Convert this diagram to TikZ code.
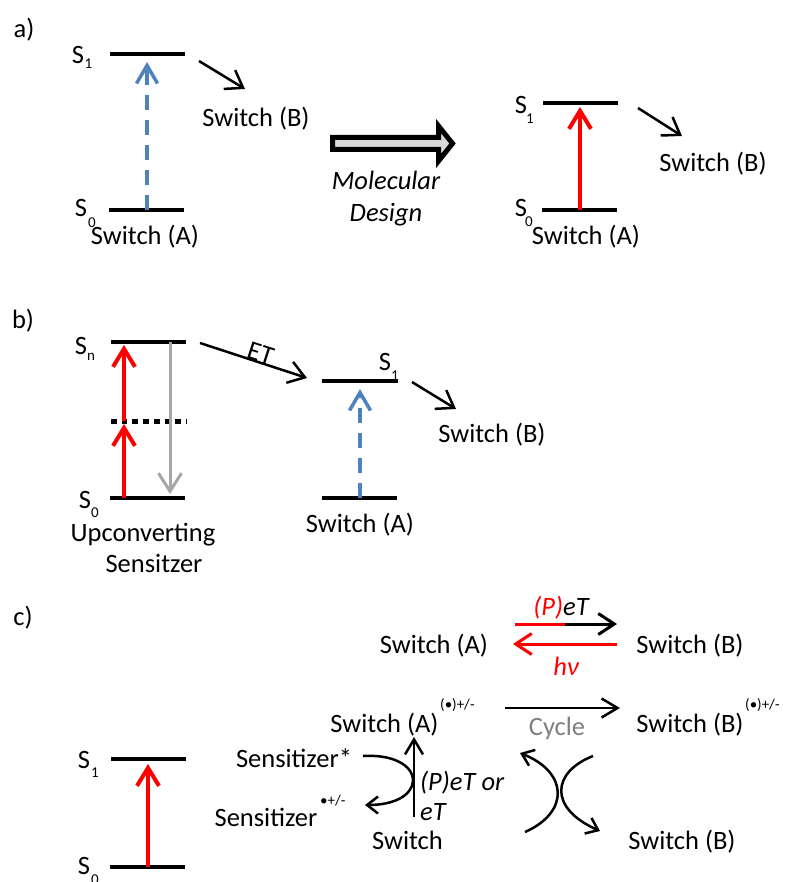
\documentclass[tikz,border=0pt]{standalone}
\usepackage{fontspec}
\setmainfont{Carlito}
\usetikzlibrary{arrows.meta}
\definecolor{myblue}{RGB}{79,129,189}
\definecolor{mygray}{RGB}{166,166,166}
\definecolor{fillgray}{RGB}{217,217,217}
\definecolor{cycgray}{RGB}{128,128,128}
\begin{document}
\begin{tikzpicture}[x=1pt,y=-1pt,
  lvl/.style={line width=4.5pt},
  lbl/.style={font=\fontsize{26.5}{30}\selectfont, inner sep=0pt, anchor=base},
  sym/.style={font=\fontsize{26.5}{30}\selectfont, inner sep=0pt},
  subl/.style={font=\fontsize{15}{15}\selectfont, inner sep=0pt},
  supl/.style={font=\fontsize{15}{15}\selectfont, inner sep=0pt, anchor=base west},
  bluedash/.style={myblue, line width=3.5pt, dash pattern=on 15pt off 10pt, -{Straight Barb[length=18pt,width=21pt]}},
  redup/.style={red, line width=4pt, -{Straight Barb[length=18pt,width=22pt]}},
  grayarr/.style={mygray, line width=3pt, -{Straight Barb[length=18pt,width=23pt]}},
  blk/.style={line width=2.5pt, -{Straight Barb[length=16pt,width=22pt]}},
  carr/.style={line width=2.5pt, -{Straight Barb[length=16pt,width=19pt]}},
  arcarr/.style={line width=2.5pt, -{Straight Barb[length=11pt,width=17pt]}},
]
\useasboundingbox (0,0) rectangle (786,882);

% ================= panel a =================
\node[lbl] (la) at (24,38) {a)};
% left diagram
\coordinate (aS1l) at (110,54); \coordinate (aS1r) at (185,54);
\coordinate (aS0l) at (109,210); \coordinate (aS0r) at (184,210);
\draw[lvl] (aS1l) -- (aS1r);
\draw[lvl] (aS0l) -- (aS0r);
\coordinate (abB) at (147,210); \coordinate (abT) at (147,62);
\draw[bluedash] (abB) -- (abT);
\node[sym] (aS1) at (78,55) {S};
\node[subl] (aS1s) at (88.5,64) {1};
\node[sym] (aS0) at (81,208) {S};
\node[subl] (aS0s) at (92,223) {0};
\coordinate (aar1) at (199,61); \coordinate (aar2) at (245,89);
\draw[blk] (aar1) -- (aar2);
\node[lbl] (aswB) at (256,127) {Switch (B)};
\node[lbl] (aswA) at (145,244.5) {Switch (A)};
% block arrow
\draw[line width=5pt, fill=fillgray, line join=miter]
  (332.5,137.5) -- (438.5,137.5) -- (438.5,126) -- (452.5,143.5) -- (438.5,161)
  -- (438.5,149.5) -- (332.5,149.5) -- cycle;
\node[lbl, font=\fontsize{26.5}{30}\selectfont\itshape] (mol) at (386,190) {Molecular};
\node[lbl, font=\fontsize{26.5}{30}\selectfont\itshape] (des) at (386,221.5) {Design};
% right diagram
\coordinate (rS1l) at (543,103); \coordinate (rS1r) at (618,103);
\coordinate (rS0l) at (542,210); \coordinate (rS0r) at (617,210);
\draw[lvl] (rS1l) -- (rS1r);
\draw[lvl] (rS0l) -- (rS0r);
\coordinate (rrB) at (580,210); \coordinate (rrT) at (580,107);
\draw[redup] (rrB) -- (rrT);
\node[sym] (rS1) at (521,105) {S};
\node[subl] (rS1s) at (530,119) {1};
\node[sym] (rS0) at (521,208) {S};
\node[subl] (rS0s) at (529,222) {0};
\coordinate (rar1) at (638,108); \coordinate (rar2) at (682,136);
\draw[blk] (rar1) -- (rar2);
\node[lbl] (rswB) at (713,171.5) {Switch (B)};
\node[lbl] (rswA) at (586,245) {Switch (A)};

% ================= panel b =================
\node[lbl] (lb) at (23,328) {b)};
\coordinate (bSnl) at (111,342); \coordinate (bSnr) at (186,342);
\coordinate (bS0l) at (110,498); \coordinate (bS0r) at (185,498);
\coordinate (bdl) at (111,421); \coordinate (bdr) at (186,421);
\draw[lvl] (bSnl) -- (bSnr);
\draw[lvl] (bS0l) -- (bS0r);
\draw[line width=5pt, dash pattern=on 5.7pt off 5pt] (bdl) -- (bdr);
\coordinate (br1) at (124,498); \coordinate (br2) at (124,424);
\coordinate (br3) at (124,421); \coordinate (br4) at (124,345);
\draw[redup] (br1) -- (br2);
\draw[redup] (br3) -- (br4);
\coordinate (bg1) at (170,342); \coordinate (bg2) at (170,494);
\draw[grayarr] (bg1) -- (bg2);
\node[sym] (bSn) at (81,346) {S};
\node[subl] (bSns) at (91,357) {n};
\node[sym] (bS0) at (85,500) {S};
\node[subl] (bS0s) at (95,513) {0};
\node[lbl] (up) at (143,541.5) {Upconverting};
\node[lbl] (sens) at (154,572.5) {Sensitzer};
\coordinate (et1) at (200,343); \coordinate (et2) at (307,378);
\draw[blk] (et1) -- (et2);
\node[lbl, rotate=-18] (etl) at (258,361) {ET};
\coordinate (cS1l) at (322,381); \coordinate (cS1r) at (398,381);
\coordinate (cS0l) at (322,498); \coordinate (cS0r) at (397,498);
\draw[lvl] (cS1l) -- (cS1r);
\draw[lvl] (cS0l) -- (cS0r);
\coordinate (cbB) at (360,498); \coordinate (cbT) at (360,389);
\draw[bluedash] (cbB) -- (cbT);
\node[sym] (cS1) at (385,362) {S};
\node[subl] (cS1s) at (395,376) {1};
\coordinate (car1) at (412,382); \coordinate (car2) at (456,409);
\draw[blk] (car1) -- (car2);
\node[lbl] (bswB) at (492,442) {Switch (B)};
\node[lbl] (bswA) at (360,532) {Switch (A)};

% ================= panel c =================
\node[lbl] (lc) at (23,625) {c)};
% top equilibrium
\node[lbl] (tA) at (434,653) {Switch (A)};
\node[lbl] (tB) at (690,653) {Switch (B)};
\coordinate (f1) at (515,624); \coordinate (fm) at (565,624); \coordinate (f2) at (617,624);
\draw[red, line width=3pt] (f1) -- (fm);
\draw[line width=3pt, -{Straight Barb[length=16pt,width=21pt]}] (fm) -- (f2);
\coordinate (g1) at (617,644); \coordinate (g2) at (513,644);
\draw[red, line width=3pt, -{Straight Barb[length=16pt,width=21pt]}] (g1) -- (g2);
\node[lbl, font=\fontsize{26.5}{30}\selectfont\itshape] (pet) at (561,615) {\textcolor{red}{(P)}eT};
\node[lbl, font=\fontsize{26.5}{30}\selectfont\itshape, text=red] (hv) at (566,675) {hν};
% cycle row
\node[lbl] (mA) at (384.5,732) {Switch (A)};
\node[supl] (mAs) at (440,709) {(•)+/-};
\node[lbl] (mB) at (690,732) {Switch (B)};
\node[supl] (mBs) at (745,709) {(•)+/-};
\coordinate (cy1) at (505,708); \coordinate (cy2) at (620,708);
\draw[carr] (cy1) -- (cy2);
\node[lbl, text=cycgray] (cyc) at (557,735.5) {Cycle};
% sensitizer
\coordinate (cS1la) at (111,759); \coordinate (cS1ra) at (186,759);
\coordinate (cS0la) at (110,867); \coordinate (cS0ra) at (185,867);
\draw[lvl] (cS1la) -- (cS1ra);
\draw[lvl] (cS0la) -- (cS0ra);
\coordinate (crB) at (148,867); \coordinate (crT) at (148,764);
\draw[redup] (crB) -- (crT);
\node[sym] (ccS1) at (84,760) {S};
\node[subl] (ccS1s) at (95,773) {1};
\node[sym] (ccS0) at (84,866) {S};
\node[subl] (ccS0s) at (95,880) {0};
\node[lbl] (sst) at (294,767) {Sensitizer*};
\node[lbl] (ssr) at (266,826) {Sensitizer};
\node[supl] (ssrs) at (320,805) {•+/-};
\coordinate (sa1) at (363,756); \coordinate (sa2) at (365,805);
\draw[arcarr] (sa1) .. controls (400,754) and (414,770) .. (413,781)
  .. controls (412,795) and (395,805) .. (sa2);
\coordinate (v1) at (414,817); \coordinate (v2) at (414,737);
\draw[line width=2.5pt, -{Straight Barb[length=15pt,width=18pt]}] (v1) -- (v2);
\node[lbl, anchor=base west, font=\fontsize{26.5}{30}\selectfont\itshape] (pet2) at (420,790) {(P)eT or};
\node[lbl, anchor=base west, font=\fontsize{26.5}{30}\selectfont\itshape] (et3) at (420,820.5) {eT};
\node[lbl] (sw) at (407.5,849) {Switch};
\node[lbl] (bB) at (682,849) {Switch (B)};
% crossing arcs
\coordinate (x1) at (593,756); \coordinate (x2) at (600,831);
\coordinate (x3) at (525,832); \coordinate (x4) at (520,753);
\draw[arcarr] (x1) .. controls (552,772) and (548,808) .. (x2);
\draw[arcarr] (x3) .. controls (570,812) and (568,772) .. (x4);
\end{tikzpicture}
\end{document}
